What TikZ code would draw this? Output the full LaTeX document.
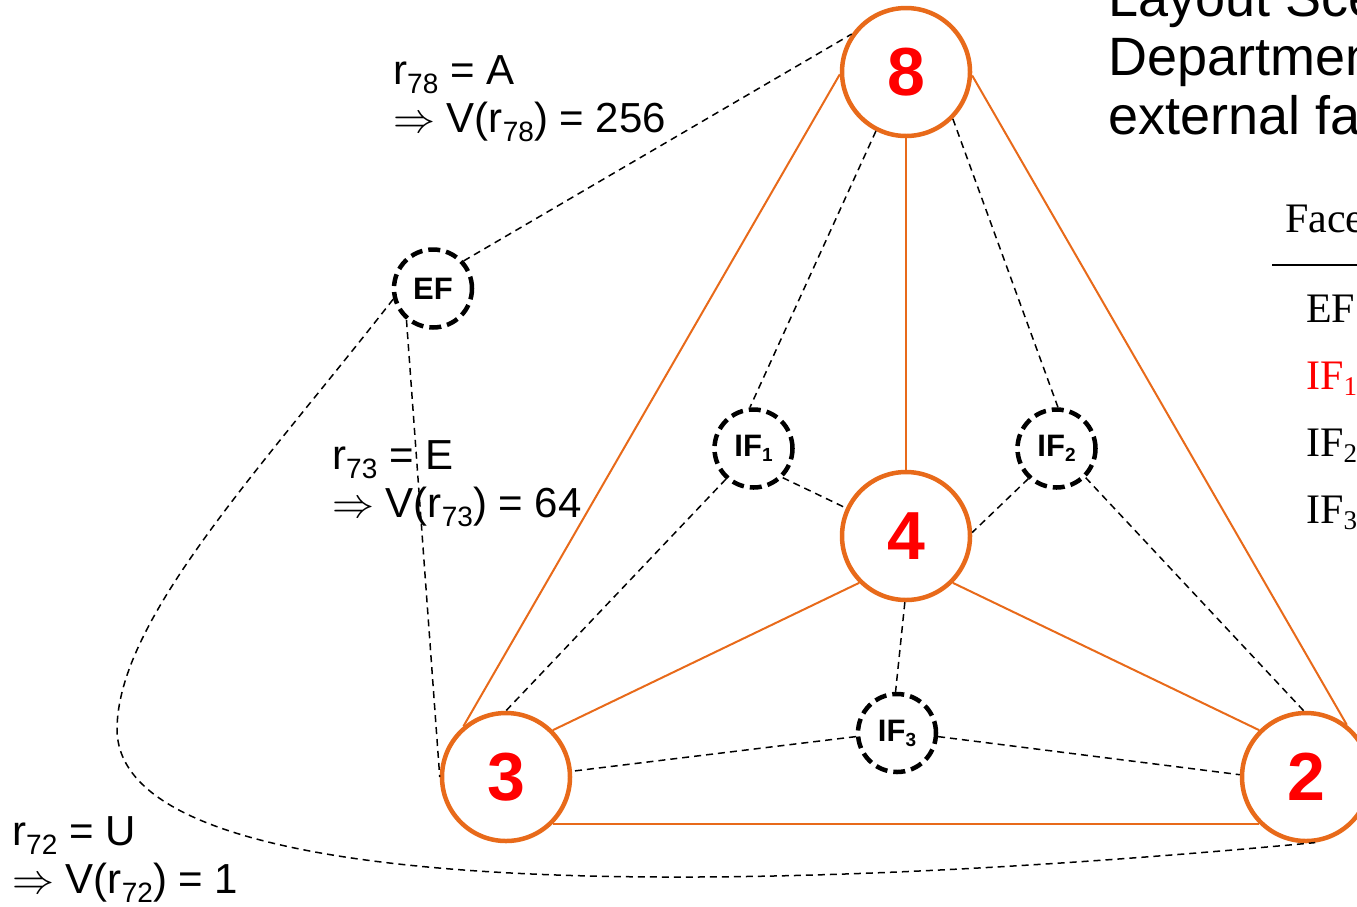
\documentclass[tikz,border=0pt]{standalone}
\usepackage{fix-cm}
\usepackage{fontspec}
\setmainfont{Liberation Sans}
\newfontfamily\tabfont{Liberation Serif}
\definecolor{org}{RGB}{232,106,26}
\newcommand\sbs[1]{\raisebox{-9pt}{\fontsize{28}{28}\selectfont #1}}
\newcommand\fsb[1]{\raisebox{-5pt}{\fontsize{19}{19}\selectfont #1}}
\newcommand\tsb[1]{\raisebox{-6pt}{\fontsize{27}{27}\selectfont #1}}
\begin{document}
\begin{tikzpicture}[x=1pt,y=-1pt,
  dept/.style={circle, draw=org, line width=4.5pt, minimum size=128pt, inner sep=0pt,
    font=\fontsize{68}{68}\selectfont\bfseries, text=red},
  face/.style={circle, draw=black, line width=4.5pt, dash pattern=on 12pt off 6pt,
    minimum size=78pt, inner sep=0pt, font=\fontsize{31}{31}\selectfont\bfseries},
  oedge/.style={draw=org, line width=2pt},
  dedge/.style={draw=black, line width=1.5pt, dash pattern=on 7pt off 5pt},
  lab/.style={anchor=base west, inner sep=0pt, font=\fontsize{42}{42}\selectfont},
  ttl/.style={anchor=base west, inner sep=0pt, font=\fontsize{54}{54}\selectfont},
  tab/.style={anchor=base west, inner sep=0pt, font=\tabfont\fontsize{42}{42}\selectfont}
]
\useasboundingbox (0,0) rectangle (1357,906);
\clip (0,0) rectangle (1357,906);

% department nodes
\node[dept] (n8) at (906,72) {8};
\node[dept] (n4) at (906,536) {4};
\node[dept] (n3) at (506,777) {3};
\node[dept] (n2) at (1306,777) {2};

% face nodes
\node[face] (EF) at (433,288.5) {EF};
\node[face] (IF1) at (753.5,448.5) {IF\fsb{1}};
\node[face] (IF2) at (1056.5,448.5) {IF\fsb{2}};
\node[face] (IF3) at (897,733) {IF\fsb{3}};

% orange edges
\draw[oedge] (n8.182) -- (n3.130);
\draw[oedge] (n8.-3) -- (n2.52);
\draw[oedge] (n8) -- (n4);
\draw[oedge] (n4.225) -- (n3.45);
\draw[oedge] (n4.-45) -- (n2.135);
\draw[oedge] (n3.-45) -- (n2.-135);

% dashed edges
\draw[dedge] (EF.42) -- (n8.145);
\draw[dedge] (EF.-130) -- (n3.180);
\draw[dedge] (EF.195) .. controls (260,470) and (117,620) .. (117,730)
  .. controls (120,900) and (700,900) .. (n2.-82);
\draw[dedge] (n8.243) -- (IF1.95);
\draw[dedge] (n8.-45) -- (IF2.88);
\draw[dedge] (IF1.-45) -- (n4.155);
\draw[dedge] (IF1.228) -- (n3.90);
\draw[dedge] (IF2.227) -- (n4.3);
\draw[dedge] (IF2.-45) -- (n2.92);
\draw[dedge] (n4.-91) -- (IF3.92);
\draw[dedge] (IF3.185) -- (n3.5);
\draw[dedge] (IF3.-5) -- (n2.178);

% labels
\node[lab] (l78a) at (393,84) {r\sbs{78} = A};
\node[lab] (l78b) at (393,132) {$\Rightarrow$ V(r\sbs{78}) = 256};
\node[lab] (l73a) at (332,469) {r\sbs{73} = E};
\node[lab] (l73b) at (332,517) {$\Rightarrow$ V(r\sbs{73}) = 64};
\node[lab] (l72a) at (12,845) {r\sbs{72} = U};
\node[lab] (l72b) at (12,893) {$\Rightarrow$ V(r\sbs{72}) = 1};

% title (cut by the frame)
\node[ttl] (t1) at (1108,16) {Layout Sce};
\node[ttl] (t2) at (1108,75) {Departmen};
\node[ttl] (t3) at (1108,134) {external fa};

% table
\node[tab] (tf) at (1285,232) {Face};
\draw[line width=2.5pt] (1272,265) -- (1357,265);
\node[tab] (te) at (1306,322) {EF};
\node[tab, text=red] (ti1) at (1306,389) {IF\tsb{1}};
\node[tab] (ti2) at (1306,456) {IF\tsb{2}};
\node[tab] (ti3) at (1306,523) {IF\tsb{3}};
\end{tikzpicture}
\end{document}
